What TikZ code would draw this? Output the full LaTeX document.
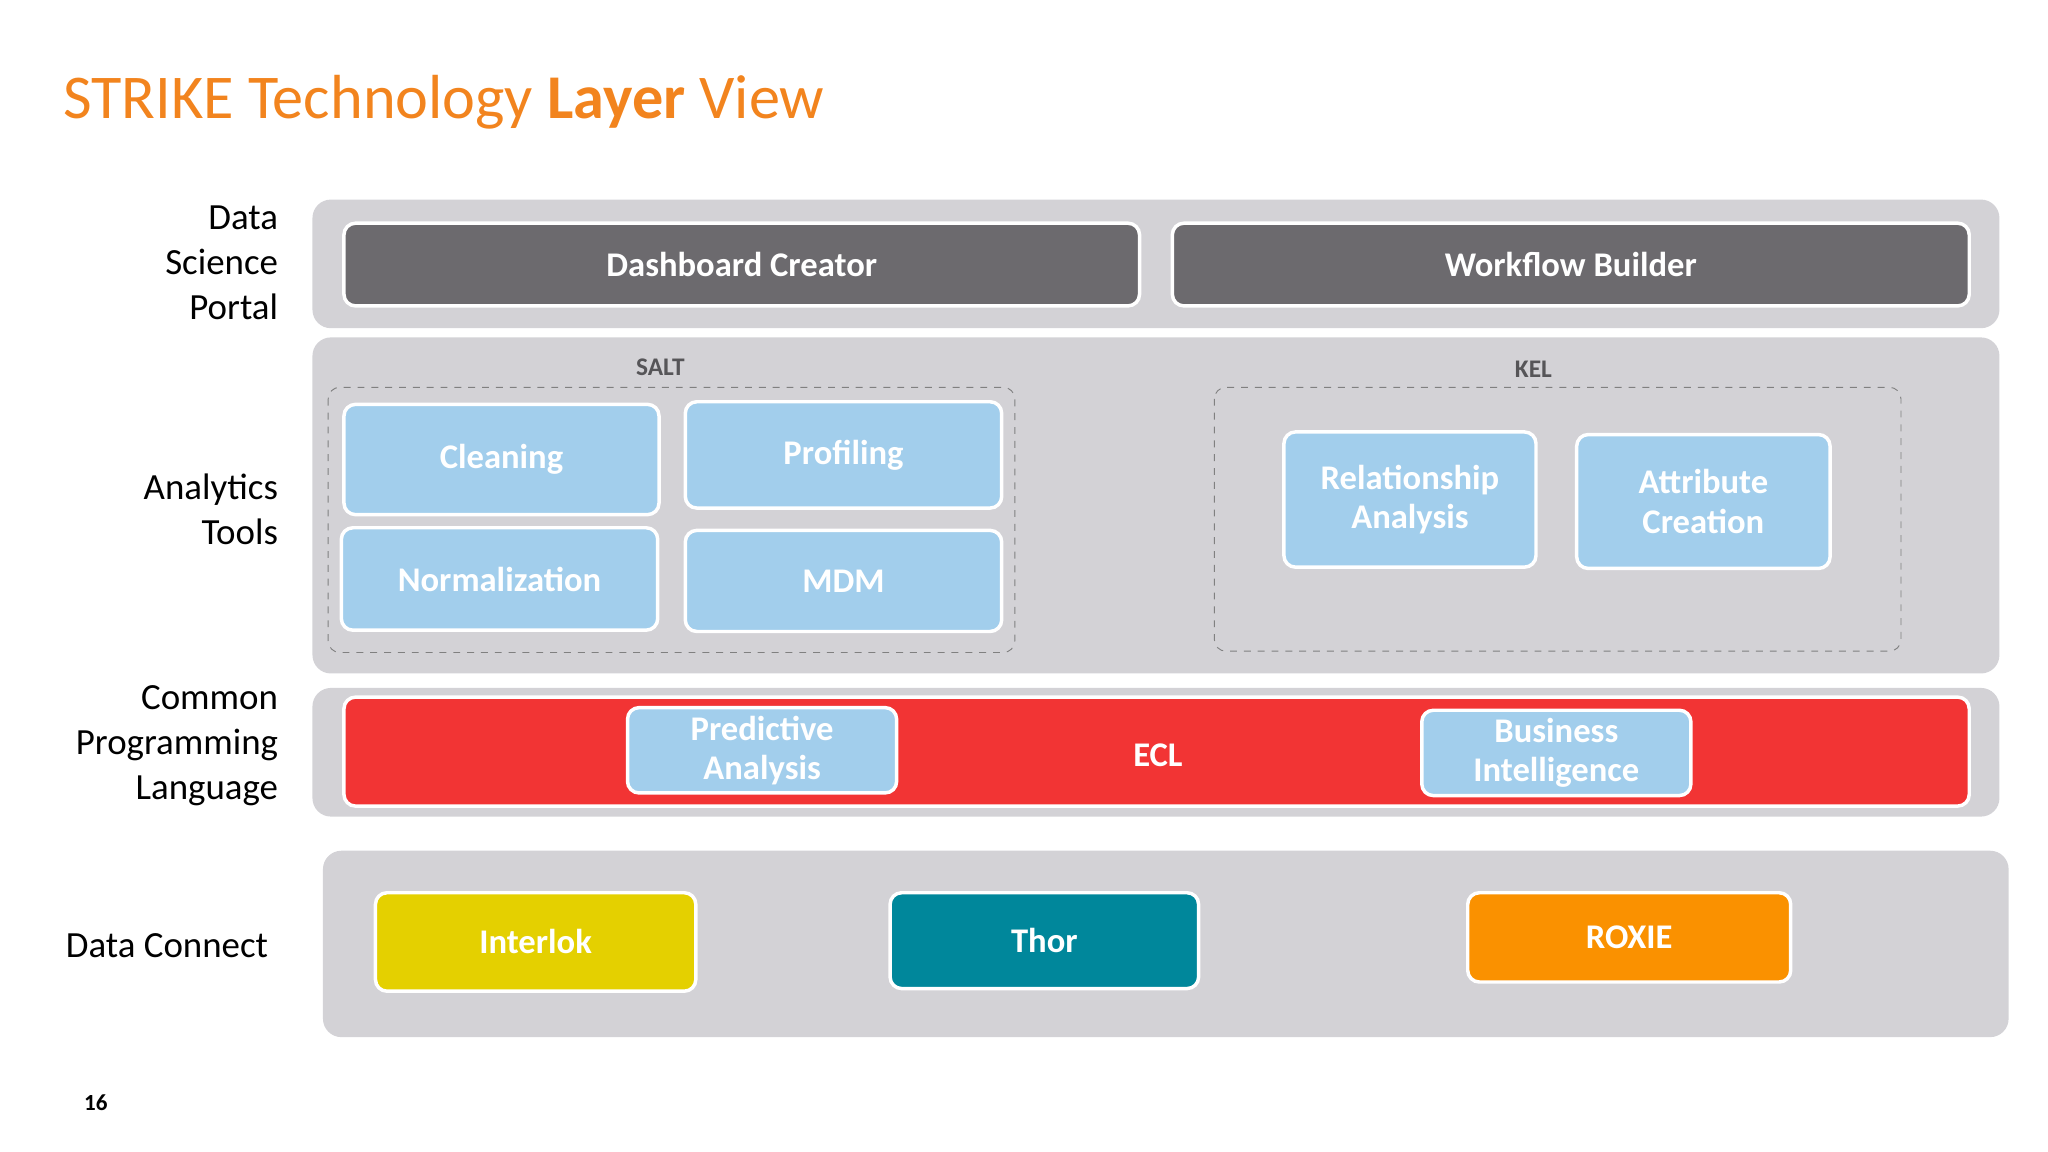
\documentclass[tikz,border=0pt]{standalone}
\usepackage{fontspec}
\setmainfont{Carlito}
\definecolor{band}{RGB}{211,210,214}
\definecolor{dark}{RGB}{108,106,110}
\definecolor{lb}{RGB}{162,206,236}
\definecolor{ttl}{RGB}{242,132,30}
\definecolor{ecl}{RGB}{242,52,52}
\definecolor{yel}{RGB}{228,208,0}
\definecolor{teal}{RGB}{0,135,155}
\definecolor{org}{RGB}{250,145,0}
\begin{document}
\begin{tikzpicture}[x=0.02cm,y=-0.02cm,
 band/.style={fill=band,rounded corners=8pt,draw=none},
 box/.style={draw=white,line width=1.5pt,rounded corners=5pt,text=white,font=\bfseries\fontsize{15}{17}\selectfont,align=center},
 dbox/.style={draw=gray,dashed,rounded corners=5pt},
 lab/.style={font=\fontsize{16}{19.5}\selectfont,align=right,anchor=east}]
\useasboundingbox (0,0) rectangle (1560,877);
\node[anchor=base west,text=ttl,font=\fontsize{27}{30}\selectfont] (title) at (42,90) {STRIKE Technology \textbf{Layer} View};
\fill[band] (238,152) rectangle (1523,250);
\fill[band] (238,257) rectangle (1523,513);
\fill[band] (238,524) rectangle (1523,622);
\fill[band] (246,648) rectangle (1530,790);
\node[box,fill=dark] (dash1) at (565,201.5) [minimum width=606*0.02cm,minimum height=63*0.02cm] {Dashboard Creator};
\node[box,fill=dark] (wf) at (1196.5,201.5) [minimum width=607*0.02cm,minimum height=63*0.02cm] {Workflow Builder};
\node[font=\bfseries\fontsize{11}{13}\selectfont,text=dark!80!black] (salt) at (503,280) {SALT};
\draw[dbox] (250,295) rectangle (773,497);
\node[font=\bfseries\fontsize{11}{13}\selectfont,text=dark!80!black] (kel) at (1168,281) {KEL};
\draw[dbox] (925,295) rectangle (1448,496);
\node[box,fill=lb,minimum width=240*0.02cm,minimum height=84*0.02cm] (cl) at (382,350) {Cleaning};
\node[box,fill=lb,minimum width=241*0.02cm,minimum height=81*0.02cm] (pr) at (642.5,346.5) {Profiling};
\node[box,fill=lb,minimum width=241*0.02cm,minimum height=78*0.02cm] (no) at (380.5,441) {Normalization};
\node[box,fill=lb,minimum width=241*0.02cm,minimum height=77*0.02cm] (mdm) at (642.5,442.5) {MDM};
\node[box,fill=lb,minimum width=192*0.02cm,minimum height=103*0.02cm] (ra) at (1074,380.5) {Relationship\\Analysis};
\node[box,fill=lb,minimum width=193*0.02cm,minimum height=102*0.02cm] (ac) at (1297.5,382) {Attribute\\Creation};
\node[box,fill=ecl,minimum width=1238*0.02cm,minimum height=83*0.02cm] (ecl) at (881,572.5) {};
\node[text=white,font=\bfseries\fontsize{15}{17}\selectfont] (ecll) at (882,575) {ECL};
\node[box,fill=lb,minimum width=205*0.02cm,minimum height=65*0.02cm,inner sep=0pt] (pa) at (580.5,571.5) {Predictive\\Analysis};
\node[box,fill=lb,minimum width=205*0.02cm,minimum height=65*0.02cm,inner sep=0pt] (bi) at (1185.5,573.5) {Business\\Intelligence};
\node[box,fill=yel,minimum width=244*0.02cm,minimum height=75*0.02cm] (il) at (408,717.5) {Interlok};
\node[box,fill=teal,minimum width=235*0.02cm,minimum height=73*0.02cm] (th) at (795.5,716.5) {Thor};
\node[box,fill=org,minimum width=246*0.02cm,minimum height=68*0.02cm] (rx) at (1241,714) {ROXIE};
\node[lab] (l1) at (218,200) {Data\\Science\\Portal};
\node[lab] (l2) at (218,388) {Analytics\\Tools};
\node[lab] (l3) at (218,568) {Common\\Programming\\Language};
\node[lab,anchor=west] (l4) at (44,720) {Data Connect};
\node[font=\bfseries\fontsize{10}{12}\selectfont] (pg) at (73,840) {16};
\end{tikzpicture}
\end{document}
